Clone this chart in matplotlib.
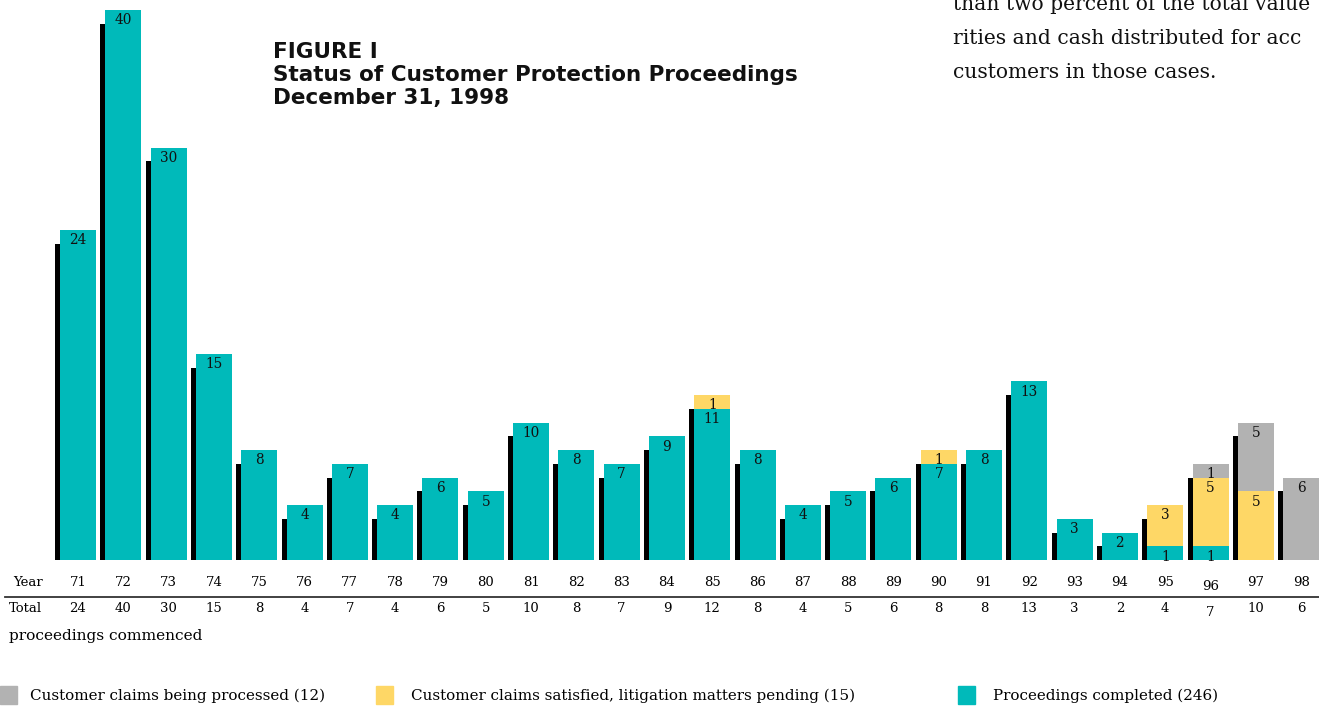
import matplotlib
matplotlib.use("Agg")
import matplotlib.pyplot as plt
from matplotlib.transforms import blended_transform_factory

# ---------------------------------------------------------------------------
# Datos
# ---------------------------------------------------------------------------
years = ["71", "72", "73", "74", "75", "76", "77", "78", "79", "80", "81", "82", "83", "84",
         "85", "86", "87", "88", "89", "90", "91", "92", "93", "94", "95", "96", "97", "98"]
completed = [24, 40, 30, 15, 8, 4, 7, 4, 6, 5, 10, 8, 7, 9,
             11, 8, 4, 5, 6, 7, 8, 13, 3, 2, 1, 1, 0, 0]
satisfied = [0, 0, 0, 0, 0, 0, 0, 0, 0, 0, 0, 0, 0, 0,
             1, 0, 0, 0, 0, 1, 0, 0, 0, 0, 3, 5, 5, 0]
processing = [0, 0, 0, 0, 0, 0, 0, 0, 0, 0, 0, 0, 0, 0,
              0, 0, 0, 0, 0, 0, 0, 0, 0, 0, 0, 1, 5, 6]
totals = [c + s + p for c, s, p in zip(completed, satisfied, processing)]

legend_labels = ["Customer claims being processed (12)",
                 "Customer claims satisfied, litigation matters pending (15)",
                 "Proceedings completed (246)"]

TEAL = "#00BABA"
YELLOW = "#FED766"
GRAY = "#B2B2B2"

W, H = 1319, 706
fig = plt.figure(figsize=(W / 100, H / 100), dpi=100)


def px(x, y):
    return x / W, 1 - y / H


# ejes: linea base en y=560 px, 13.75 px por unidad
PITCH = 45.3
ax = fig.add_axes([0, (H - 560) / H, 1, 560 / H])
ax.set_xlim(-60 / PITCH, (W - 60) / PITCH)
ax.set_ylim(0, 560 / 13.75)
ax.axis("off")

bw = 36 / PITCH
xs = list(range(len(years)))

# sombra negra
ax.bar([x - 5 / PITCH for x in xs], [max(t - 1.0, 0) for t in totals],
       width=6 / PITCH, align="edge", color="black", zorder=1)

# barras apiladas
ax.bar(xs, completed, width=bw, align="edge", color=TEAL, zorder=2)
ax.bar(xs, satisfied, width=bw, align="edge", bottom=completed, color=YELLOW, zorder=2)
bottom2 = [c + s for c, s in zip(completed, satisfied)]
ax.bar(xs, processing, width=bw, align="edge", bottom=bottom2, color=GRAY, zorder=2)

serif = "DejaVu Serif"
for x, c, s, p in zip(xs, completed, satisfied, processing):
    cx = x + bw / 2
    base = 0
    for v in (c, s, p):
        if v > 0:
            ax.text(cx, base + v - 0.75, str(v), ha="center", va="center",
                    fontsize=9.8, family=serif, color="#111111", zorder=3)
        base += v

# filas de Year / Total
trans = blended_transform_factory(ax.transData, fig.transFigure)
fig.text(*px(13, 583), "Year", ha="left", va="center", fontsize=9.5, family=serif)
fig.text(*px(9, 609), "Total", ha="left", va="center", fontsize=9.5, family=serif)
fig.text(*px(9, 636), "proceedings commenced", ha="left", va="center",
         fontsize=11.1, family=serif)
for x, yr, t in zip(xs, years, totals):
    cx = x + bw / 2
    dy = 4 if yr == "96" else 0
    ax.text(cx, 1 - (583 + dy) / H, yr, transform=trans, ha="center", va="center",
            fontsize=9.5, family=serif)
    ax.text(cx, 1 - (609 + dy) / H, str(t), transform=trans, ha="center", va="center",
            fontsize=9.5, family=serif)
fig.add_artist(plt.Line2D([5 / W, 1], [1 - 597 / H] * 2, color="#333333", lw=1.3))

# titulo
fig.text(*px(273, 42), "FIGURE I\nStatus of Customer Protection Proceedings\nDecember 31, 1998",
         ha="left", va="top", fontsize=15.5, fontweight="bold", family="DejaVu Sans",
         linespacing=1.2, color="#111111")

# texto de la pagina (arriba a la derecha), cortado por el borde como en el original
page_lines = ["than two percent of the total value",
              "rities and cash distributed for acc",
              "customers in those cases."]
for i, line in enumerate(page_lines):
    fig.text(*px(953, 4 + 34 * i), line, ha="left", va="center", fontsize=14.6,
             family=serif, color="#111111")

# leyenda
legend_x = [0, 376, 958]
for lx, col, lab in zip(legend_x, [GRAY, YELLOW, TEAL], legend_labels):
    fig.add_artist(plt.Rectangle(px(lx, 704), 17 / W, 18 / H, color=col,
                                 transform=fig.transFigure))
    fig.text(*px(lx + 30 if lx == 0 else lx + 35, 696), lab, ha="left", va="center",
             fontsize=10.9, family=serif)

fig.savefig("out.png", dpi=100)
